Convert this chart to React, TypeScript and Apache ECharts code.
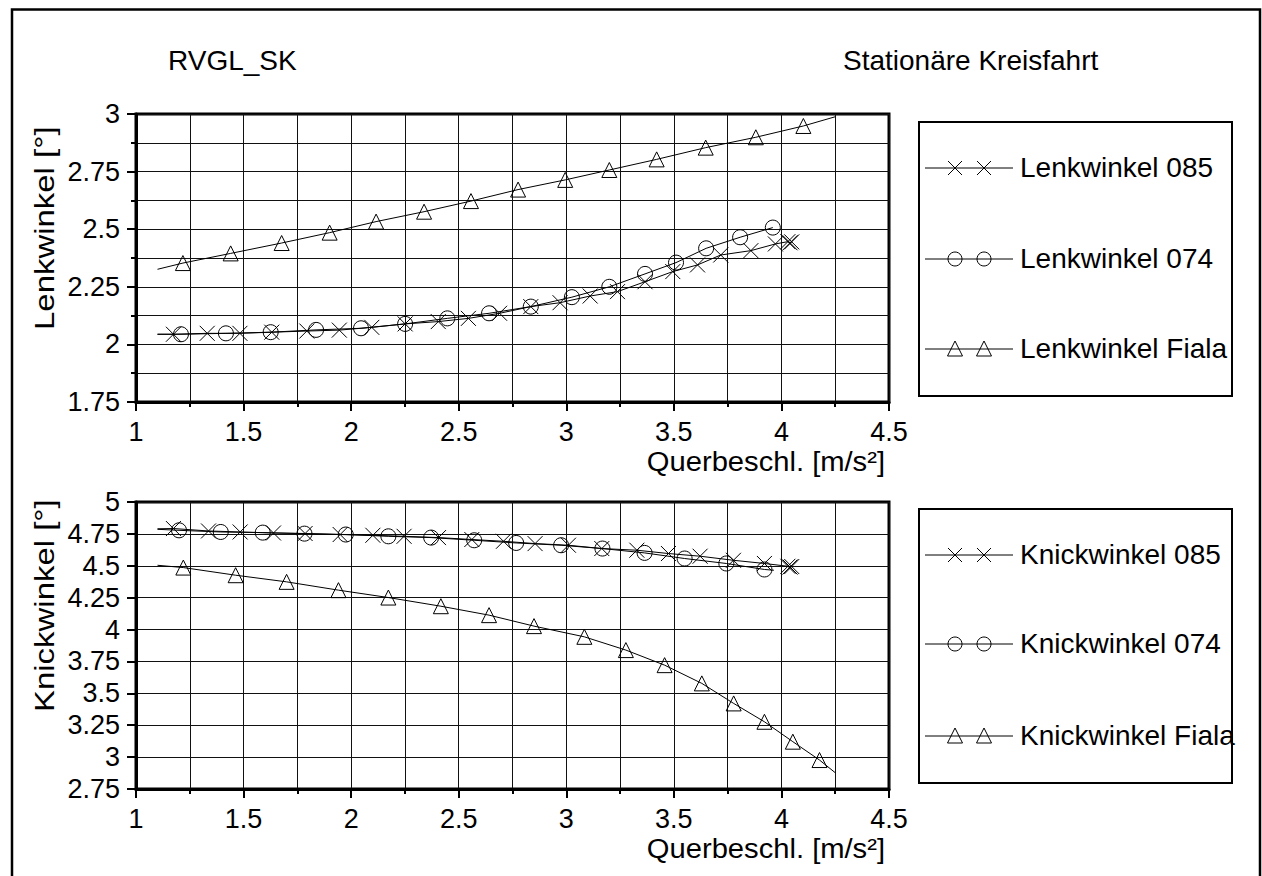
import React, { useEffect, useRef } from 'react';
import * as echarts from 'echarts';

// ---------- data ----------
const xTickMin = 1;
const xTickMax = 4.5;
const lenkMin = 1.75;
const lenkMax = 3;
const knickMin = 2.75;
const knickMax = 5;

const lenk085X = [1.174, 1.331, 1.483, 1.631, 1.794, 1.945, 2.096, 2.251, 2.405, 2.545, 2.69, 2.835, 2.971, 3.111, 3.238, 3.366, 3.495, 3.61, 3.718, 3.858, 3.972, 4.03, 4.04, 4.048];
const lenk085Y = [2.044, 2.048, 2.048, 2.053, 2.058, 2.062, 2.074, 2.089, 2.099, 2.113, 2.135, 2.164, 2.181, 2.21, 2.229, 2.272, 2.316, 2.345, 2.388, 2.407, 2.436, 2.446, 2.441, 2.445];
const lenk085Start = [1.1, 2.044];

const lenk074X = [1.209, 1.418, 1.626, 1.837, 2.046, 2.251, 2.447, 2.641, 2.835, 3.026, 3.2, 3.366, 3.51, 3.65, 3.808, 3.96];
const lenk074Y = [2.044, 2.048, 2.053, 2.063, 2.07, 2.089, 2.113, 2.135, 2.164, 2.205, 2.25, 2.306, 2.355, 2.417, 2.465, 2.507];
const lenk074Start = [1.1, 2.044];

const lenkFialaX = [1.218, 1.44, 1.677, 1.9, 2.116, 2.339, 2.557, 2.776, 2.995, 3.2, 3.42, 3.648, 3.881, 4.102];
const lenkFialaY = [2.353, 2.395, 2.44, 2.485, 2.533, 2.576, 2.622, 2.672, 2.714, 2.757, 2.803, 2.854, 2.899, 2.948];
const lenkFialaStart = [1.1, 2.326];
const lenkFialaEnd = [4.25, 2.988];

const knick085X = [1.174, 1.337, 1.484, 1.639, 1.786, 1.949, 2.101, 2.246, 2.406, 2.561, 2.708, 2.855, 3.01, 3.165, 3.328, 3.475, 3.622, 3.777, 3.921, 4.03, 4.04, 4.048];
const knick085Y = [4.792, 4.773, 4.765, 4.757, 4.753, 4.745, 4.739, 4.731, 4.721, 4.706, 4.692, 4.674, 4.661, 4.635, 4.622, 4.596, 4.575, 4.543, 4.518, 4.496, 4.49, 4.494];
const knick085Start = [1.1, 4.79];

const knick074X = [1.2, 1.394, 1.589, 1.783, 1.975, 2.173, 2.372, 2.572, 2.767, 2.976, 3.168, 3.364, 3.55, 3.744, 3.921];
const knick074Y = [4.778, 4.765, 4.76, 4.752, 4.745, 4.731, 4.721, 4.7, 4.679, 4.661, 4.635, 4.601, 4.557, 4.518, 4.471];
const knick074Start = [1.1, 4.786];
const knick074End = [3.965, 4.465];

const knickFialaX = [1.22, 1.463, 1.7, 1.941, 2.173, 2.417, 2.641, 2.85, 3.084, 3.277, 3.457, 3.63, 3.778, 3.921, 4.053, 4.177];
const knickFialaY = [4.486, 4.426, 4.374, 4.309, 4.251, 4.183, 4.113, 4.027, 3.943, 3.839, 3.721, 3.578, 3.421, 3.277, 3.121, 2.977];
const knickFialaStart = [1.1, 4.504];
const knickFialaEnd = [4.25, 2.878];

const lenkNames = ['Lenkwinkel 085', 'Lenkwinkel 074', 'Lenkwinkel Fiala'];
const knickNames = ['Knickwinkel 085', 'Knickwinkel 074', 'Knickwinkel Fiala'];
const titleLeft = 'RVGL_SK';
const titleRight = 'Stationäre Kreisfahrt';
const xName = 'Querbeschl. [m/s²]';
const yNameTop = 'Lenkwinkel [°]';
const yNameBottom = 'Knickwinkel [°]';

// ---------- styling ----------
const FONT = '"Liberation Sans", Arial, Helvetica, sans-serif';
const FS = 27;
const FS_TEXT = 28;
const CROSS = 'path://M0,0L10,10M10,0L0,10';
const markerKinds = ['cross', 'circle', 'triangle'];

function zip(xs: number[], ys: number[]) {
  return xs.map((x, i) => [x, ys[i]]);
}

function lineData(xs: number[], ys: number[], start?: number[], end?: number[]) {
  const pts = zip(xs, ys);
  if (start) pts.unshift(start);
  if (end) pts.push(end);
  return pts;
}

function symbolOf(kind: string) {
  if (kind === 'cross') return CROSS;
  return kind;
}

function makeSeries(idx: number, name: string, kind: string, line: number[][], marks: number[][]) {
  return [
    {
      type: 'line',
      name: name + ' line',
      xAxisIndex: idx,
      yAxisIndex: idx,
      data: line,
      symbol: 'none',
      smooth: false,
      lineStyle: { color: '#000', width: 1 },
      silent: true,
      z: 3,
    },
    {
      type: 'scatter',
      name,
      xAxisIndex: idx,
      yAxisIndex: idx,
      data: marks,
      symbol: symbolOf(kind),
      symbolSize: 15,
      itemStyle: { color: 'transparent', borderColor: '#000', borderWidth: 1, opacity: 1 },
      silent: true,
      z: 4,
    },
  ];
}

function legendGraphic(boxY: number, rows: number[], names: string[]) {
  const els: any[] = [];
  els.push({
    type: 'rect',
    shape: { x: 919, y: boxY, width: 313, height: 274 },
    style: { fill: 'none', stroke: '#000', lineWidth: 2 },
    z: 10,
  });
  rows.forEach((cy, i) => {
    els.push({
      type: 'line',
      shape: { x1: 925, y1: cy, x2: 1013, y2: cy },
      style: { stroke: '#000', lineWidth: 1 },
      z: 10,
    });
    [955, 984].forEach((cx) => {
      const kind = markerKinds[i];
      if (kind === 'cross') {
        els.push({ type: 'line', shape: { x1: cx - 7, y1: cy - 7, x2: cx + 7, y2: cy + 7 }, style: { stroke: '#000', lineWidth: 1 }, z: 10 });
        els.push({ type: 'line', shape: { x1: cx + 7, y1: cy - 7, x2: cx - 7, y2: cy + 7 }, style: { stroke: '#000', lineWidth: 1 }, z: 10 });
      } else if (kind === 'circle') {
        els.push({ type: 'circle', shape: { cx, cy, r: 7 }, style: { fill: 'none', stroke: '#000', lineWidth: 1 }, z: 10 });
      } else {
        els.push({
          type: 'polygon',
          shape: { points: [[cx - 7.5, cy + 7], [cx + 7.5, cy + 7], [cx, cy - 8]] },
          style: { fill: 'none', stroke: '#000', lineWidth: 1 },
          z: 10,
        });
      }
    });
    els.push({
      type: 'text',
      style: { text: names[i], x: 1020, y: cy - 1, fill: '#000', font: `${FS_TEXT}px ${FONT}`, textAlign: 'left', textVerticalAlign: 'middle', lineHeight: 24 },
      z: 10,
    });
  });
  return els;
}

function textEl(text: string, x: number, y: number, align: string, size: number, rotation = 0, scaleX = 1) {
  return {
    type: 'text',
    x,
    y,
    rotation,
    scaleX,
    style: { text, x: 0, y: 0, fill: '#000', font: `${size}px ${FONT}`, textAlign: align, textVerticalAlign: 'middle', lineHeight: 22 },
    z: 10,
  };
}

function xAxisDef(idx: number) {
  return {
    type: 'value',
    gridIndex: idx,
    min: xTickMin,
    max: xTickMax,
    interval: 0.5,
    axisLine: { show: true, onZero: false, lineStyle: { color: '#000', width: 3 } },
    axisTick: { show: true, length: 9, lineStyle: { color: '#000', width: 2 } },
    minorTick: { show: true, splitNumber: 2, length: 5, lineStyle: { color: '#000', width: 2 } },
    splitLine: { show: true, lineStyle: { color: '#111', width: 1 } },
    minorSplitLine: { show: true, lineStyle: { color: '#111', width: 1 } },
    axisLabel: { color: '#000', fontSize: FS, fontFamily: FONT, margin: 19, lineHeight: 22 },
  };
}

function yAxisDef(idx: number, min: number, max: number, minor: boolean) {
  return {
    type: 'value',
    gridIndex: idx,
    min,
    max,
    interval: 0.25,
    axisLine: { show: true, onZero: false, lineStyle: { color: '#000', width: 3 } },
    axisTick: { show: true, length: 9, lineStyle: { color: '#000', width: 2 } },
    minorTick: { show: minor, splitNumber: 2, length: 5, lineStyle: { color: '#000', width: 2 } },
    splitLine: { show: true, lineStyle: { color: '#111', width: 1 } },
    minorSplitLine: { show: minor, lineStyle: { color: '#111', width: 1 } },
    axisLabel: { color: '#000', fontSize: FS, fontFamily: FONT, margin: 16, lineHeight: 22 },
  };
}

export default function App() {
  const ref = useRef<HTMLDivElement>(null);

  useEffect(() => {
    if (!ref.current) return;
    const chart = echarts.init(ref.current, undefined, { renderer: 'svg' });

    const series = [
      ...makeSeries(0, lenkNames[0], 'cross', lineData(lenk085X, lenk085Y, lenk085Start), zip(lenk085X, lenk085Y)),
      ...makeSeries(0, lenkNames[1], 'circle', lineData(lenk074X, lenk074Y, lenk074Start), zip(lenk074X, lenk074Y)),
      ...makeSeries(0, lenkNames[2], 'triangle', lineData(lenkFialaX, lenkFialaY, lenkFialaStart, lenkFialaEnd), zip(lenkFialaX, lenkFialaY)),
      ...makeSeries(1, knickNames[0], 'cross', lineData(knick085X, knick085Y, knick085Start), zip(knick085X, knick085Y)),
      ...makeSeries(1, knickNames[1], 'circle', lineData(knick074X, knick074Y, knick074Start, knick074End), zip(knick074X, knick074Y)),
      ...makeSeries(1, knickNames[2], 'triangle', lineData(knickFialaX, knickFialaY, knickFialaStart, knickFialaEnd), zip(knickFialaX, knickFialaY)),
    ];

    const graphic: any[] = [
      {
        type: 'rect',
        shape: { x: 12, y: 9.5, width: 1248, height: 900 },
        style: { fill: 'none', stroke: '#000', lineWidth: 2.5 },
        z: 10,
      },
      textEl(titleLeft, 168, 60, 'left', FS_TEXT),
      textEl(titleRight, 843, 60, 'left', FS_TEXT),
      textEl(xName, 885, 462, 'right', 27, 0, 1.08),
      textEl(xName, 885, 849, 'right', 27, 0, 1.08),
      textEl(yNameTop, 45, 330, 'left', FS, Math.PI / 2, 1.22),
      textEl(yNameBottom, 45, 712, 'left', FS, Math.PI / 2, 1.22),
      ...legendGraphic(122, [168, 259, 349], lenkNames),
      ...legendGraphic(509, [555, 644, 736], knickNames),
    ];

    chart.setOption({
      animation: false,
      backgroundColor: '#fff',
      grid: [
        { left: 136, top: 114, width: 753, height: 288, show: true, borderColor: '#000', borderWidth: 3, backgroundColor: 'transparent' },
        { left: 136, top: 502, width: 753, height: 287, show: true, borderColor: '#000', borderWidth: 3, backgroundColor: 'transparent' },
      ],
      xAxis: [xAxisDef(0), xAxisDef(1)],
      yAxis: [yAxisDef(0, lenkMin, lenkMax, true), yAxisDef(1, knickMin, knickMax, false)],
      series,
      graphic,
    });

    return () => {
      chart.dispose();
    };
  }, []);

  return (
    <div
      ref={ref}
      style={{ position: 'fixed', left: 0, top: 0, width: 1262, height: 876, background: '#fff' }}
    />
  );
}
